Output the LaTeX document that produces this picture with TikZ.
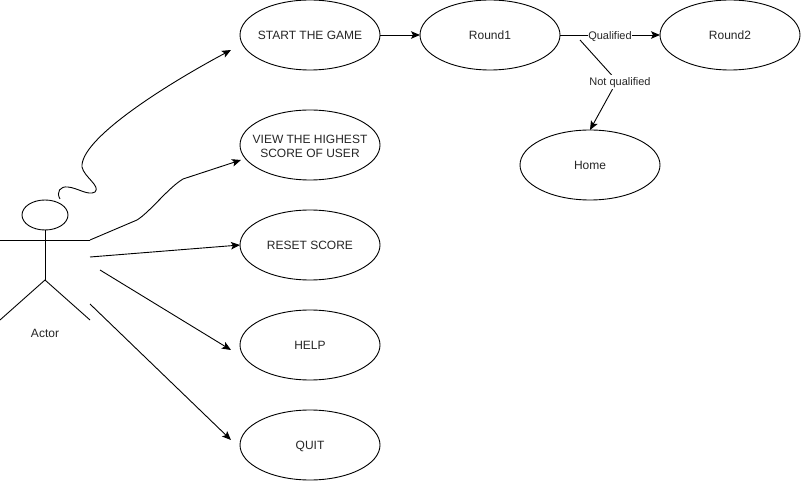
\documentclass[tikz,border=0pt]{standalone}
\usepackage{fontspec}
\setmainfont{Liberation Sans}
\usetikzlibrary{arrows.meta,shapes.geometric}
\newcommand{\uctext}[2][-4.5pt]{\raisebox{#1}[0pt][0pt]{\makebox[0pt]{\begin{tabular}{@{}c@{}}#2\end{tabular}}}}
\tikzset{
  x=1pt,y=-1pt,
  usecase/.style={draw,ellipse,minimum width=140pt,minimum height=70pt,inner sep=0pt,outer sep=0pt,font=\fontsize{12}{14}\selectfont,text=black!85},
  conn/.style={draw,line width=.9pt,-{Stealth[length=9pt,width=7.5pt,inset=2pt]}},
  stick/.style={draw,line width=.9pt},
  lbl/.style={fill=white,inner sep=0.5pt,font=\fontsize{11}{13}\selectfont,text=black!85},
}
\begin{document}
\begin{tikzpicture}[line width=.9pt]
\useasboundingbox (0,0) rectangle (801,481);
\fill[white] (0,0) rectangle (801,481);
\node[usecase] (start) at (310,35) {\uctext{START THE GAME}};
\node[usecase] (round1) at (490,35) {\uctext{Round1}};
\node[usecase] (round2) at (730,35) {\uctext{Round2}};
\node[usecase] (home) at (590,165) {\uctext{Home}};
\node[usecase] (view) at (310,145) {\uctext[-5.5pt]{VIEW THE HIGHEST\\SCORE OF USER}};
\node[usecase] (reset) at (310,245) {\uctext{RESET SCORE}};
\node[usecase] (help) at (310,345) {\uctext{HELP}};
\node[usecase] (quit) at (310,445) {\uctext{QUIT}};
% actor
\node[draw,ellipse,minimum width=46pt,minimum height=30pt,inner sep=0pt,outer sep=0pt] (head) at (45,215) {};
\coordinate (armL) at (0,240);
\coordinate (armR) at (90,240);
\coordinate (hip) at (45,280);
\coordinate (legL) at (0,320);
\coordinate (legR) at (90,320);
\draw[stick] (head.south) -- (hip);
\draw[stick] (armL) -- (armR);
\draw[stick] (legL) -- (hip) -- (legR);
\node[font=\fontsize{12}{14}\selectfont,text=black!85] (actor) at (45,333) {Actor};
% free ends
\coordinate (a1) at (60,199);
\coordinate (a3) at (90,257);
\coordinate (a4) at (100,270);
\coordinate (a5) at (90,304);
\coordinate (t1) at (231,50);
\coordinate (t2) at (241,160);
\coordinate (t3) at (240,245);
\coordinate (t4) at (231,350);
\coordinate (t5) at (231,440);
\draw[conn] (a1) .. controls (56,192) and (60,186) .. (68,187)
  .. controls (78,188) and (88,196) .. (95,192)
  .. controls (101,186) and (84,177) .. (82,167)
  .. controls (80,140) and (160,88) .. (t1);
\draw[conn] (armR) -- (137,220) .. controls (150,212) and (168,188) .. (183,179) -- (t2);
\draw[conn] (a3) -- (t3);
\draw[conn] (a4) -- (t4);
\draw[conn] (a5) -- (t5);
\draw[conn] (start) -- (round1);
\draw[conn] (round1) -- node[lbl,pos=.5,yshift=-1.5pt] (q) {\strut Qualified} (round2);
\coordinate (b1) at (580,40);
\coordinate (b2) at (617,81);
\draw[conn] (b1) -- (b2) -- (home.north);
\node[lbl] (nq) at (620,82.5) {\strut Not qualified};
\end{tikzpicture}
\end{document}
